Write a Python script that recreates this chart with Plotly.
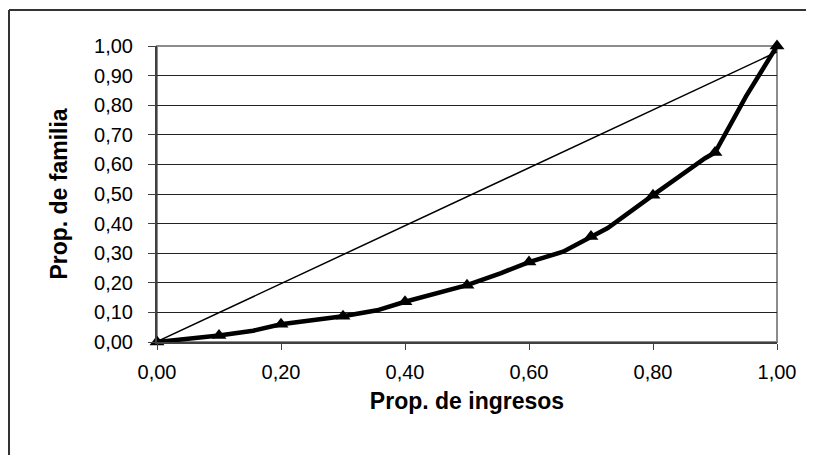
import plotly.graph_objects as go

# deciles shown with triangle markers
prop_ingresos = [0.00, 0.10, 0.20, 0.30, 0.40, 0.50, 0.60, 0.70, 0.80, 0.90, 1.00]
prop_familias = [0.00, 0.022, 0.060, 0.087, 0.136, 0.192, 0.270, 0.356, 0.496, 0.640, 1.00]

# points of the drawn curve (it bends between the markers)
curva_x = [0.00, 0.10, 0.155, 0.20, 0.30, 0.355, 0.40, 0.50, 0.555, 0.60, 0.655,
           0.70, 0.727, 0.80, 0.884, 0.90, 0.95, 1.00]
curva_y = [0.00, 0.022, 0.038, 0.060, 0.087, 0.107, 0.136, 0.192, 0.233, 0.270, 0.305,
           0.356, 0.385, 0.496, 0.621, 0.640, 0.830, 1.00]

# line of equality
igualdad_x = [-0.022, 1.00]
igualdad_y = [-0.020, 0.98]

y_ticks = [0.0, 0.1, 0.2, 0.3, 0.4, 0.5, 0.6, 0.7, 0.8, 0.9, 1.0]
x_ticks = [0.0, 0.2, 0.4, 0.6, 0.8, 1.0]

font = "Arial, Liberation Sans, sans-serif"

fig = go.Figure()
fig.add_trace(go.Scatter(x=igualdad_x, y=igualdad_y, mode="lines",
                         line=dict(color="black", width=1.5), hoverinfo="skip"))
fig.add_trace(go.Scatter(x=curva_x, y=curva_y, mode="lines",
                         line=dict(color="black", width=4.5)))
fig.add_trace(go.Scatter(x=prop_ingresos, y=prop_familias, mode="markers",
                         marker=dict(symbol="triangle-up", size=13, color="black"),
                         cliponaxis=False))

# gray plot-area frame and the outer chart border
fig.add_shape(type="rect", xref="paper", yref="paper", x0=0, x1=1, y0=0, y1=1,
              line=dict(color="#8c8c8c", width=2), layer="below")
fig.add_shape(type="line", xref="paper", yref="paper", x0=-0.2387, x1=-0.2387,
              y0=-0.6, y1=1.1216, line=dict(color="#333333", width=2))
fig.add_shape(type="line", xref="paper", yref="paper", x0=-0.2387, x1=1.2,
              y0=1.1216, y1=1.1216, line=dict(color="#333333", width=2))

# the page body has an 8px margin, so the figure is a bit smaller than the window
fig.update_layout(
    width=806, height=447,
    margin=dict(l=149, r=37, t=38, b=113),
    paper_bgcolor="white", plot_bgcolor="white",
    showlegend=False,
    separators=", ",
    font=dict(family=font, size=20, color="black"),
)
fig.update_xaxes(
    range=[0, 1], tickvals=x_ticks, tickformat=".2f",
    showgrid=False, zeroline=False,
    showline=True, linecolor="#404040", linewidth=2,
    ticks="outside", ticklen=6, tickcolor="#404040", tickwidth=1,
    ticklabelstandoff=5,
    title=dict(text="<b>Prop. de ingresos</b>", font=dict(size=23), standoff=11),
)
fig.update_yaxes(
    range=[0, 1], tickvals=y_ticks, tickformat=".2f",
    showgrid=True, gridcolor="#222222", gridwidth=1, zeroline=False,
    showline=True, linecolor="#404040", linewidth=2,
    ticks="outside", ticklen=7, tickcolor="#404040", tickwidth=1,
    ticklabelstandoff=11,
    title=dict(text="<b>Prop. de familia</b>", font=dict(size=23), standoff=20),
)

fig.write_html("out.html")
